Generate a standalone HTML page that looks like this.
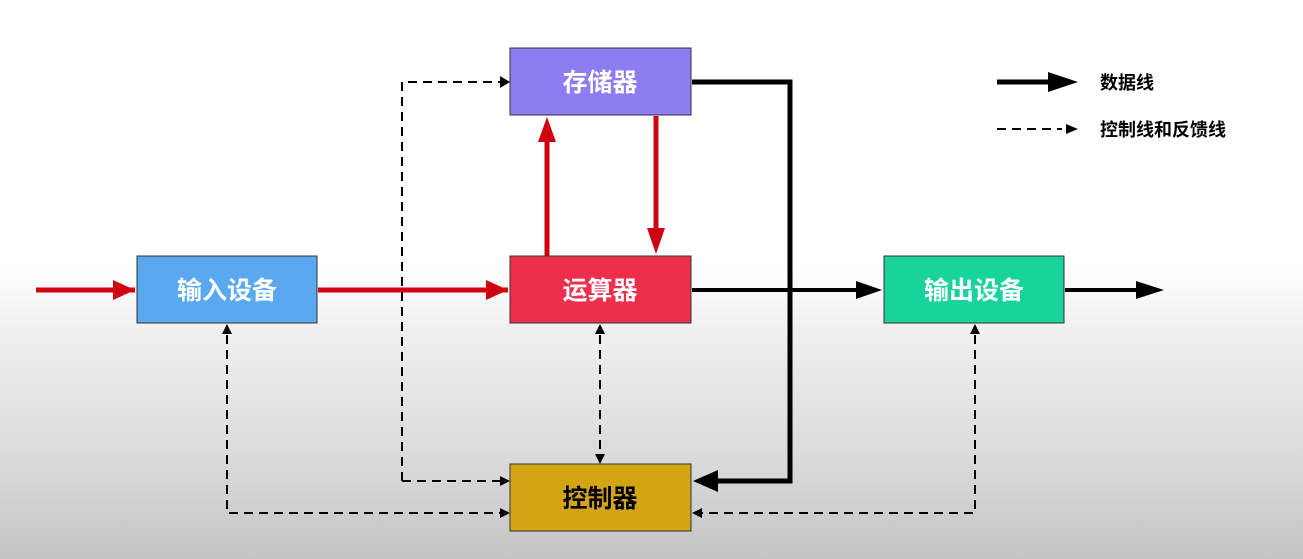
<!DOCTYPE html>
<html><head><meta charset="utf-8"><style>
html,body{margin:0;padding:0;}
body{width:1303px;height:559px;overflow:hidden;background:linear-gradient(#fff 0px,#fff 265px,#f0f0f0 330px,#d8d8d8 470px,#c4c4c4 559px);}
svg{display:block}
text{font-family:"Liberation Sans","Noto Sans CJK SC",sans-serif;font-weight:bold;}
</style></head><body>
<svg width="1303" height="559" viewBox="0 0 1303 559">
<defs>
<marker id="red" markerWidth="10" markerHeight="10" refX="9" refY="5" orient="auto" markerUnits="userSpaceOnUse"><path d="M0,0 L10,5 L0,10 z" fill="#d10010"/></marker>
<marker id="blk" markerWidth="10" markerHeight="10" refX="9" refY="5" orient="auto" markerUnits="userSpaceOnUse"><path d="M0,0 L10,5 L0,10 z" fill="#000"/></marker>
<marker id="sm" markerWidth="10" markerHeight="8" refX="9" refY="4" orient="auto" markerUnits="userSpaceOnUse"><path d="M0,0 L10,4 L0,8 z" fill="#000"/></marker>
</defs>
<g fill="none">
<!-- red arrows -->
<path d="M36,290 H135" stroke="#d10010" stroke-width="5"/>
<path d="M113,280 L135,290 L113,300z" fill="#d10010"/>
<path d="M318,290 H508" stroke="#d10010" stroke-width="5"/>
<path d="M486,280 L508,290 L486,300z" fill="#d10010"/>
<path d="M547,256 V140" stroke="#d10010" stroke-width="5"/>
<path d="M538,142 L547,117 L556,142z" fill="#d10010"/>
<path d="M656,116 V230" stroke="#d10010" stroke-width="5"/>
<path d="M647,228 L656,254 L665,228z" fill="#d10010"/>
<!-- black data lines -->
<path d="M692,82 H790 V481 H718" stroke="#000" stroke-width="5"/>
<path d="M718,470 L693,481 L718,492z" fill="#000"/>
<path d="M692,290 H860" stroke="#000" stroke-width="4"/>
<path d="M856,281 L882,290 L856,299z" fill="#000"/>
<path d="M1065,290 H1140" stroke="#000" stroke-width="4"/>
<path d="M1136,281 L1164,290 L1136,299z" fill="#000"/>
<!-- dashed -->
<g stroke="#000" stroke-width="2" stroke-dasharray="9,6">
<path d="M402,481 V82 H500"/>
<path d="M402,481 H500"/>
<path d="M227,335 V513 H500"/>
<path d="M600,335 V455"/>
<path d="M975,335 V513 H702"/>
<path d="M997,129 H1062"/>
</g>
<path d="M500,76 L510,82 L500,88z" fill="#000"/>
<path d="M500,476 L510,481 L500,486z" fill="#000"/>
<path d="M500,508 L510,513 L500,518z" fill="#000"/>
<path d="M702,508 L692,513 L702,518z" fill="#000"/>
<path d="M222,334 L227,324 L232,334z" fill="#000"/>
<path d="M595,334 L600,324 L605,334z" fill="#000"/>
<path d="M595,454 L600,464 L605,454z" fill="#000"/>
<path d="M970,334 L975,324 L980,334z" fill="#000"/>
<path d="M1066,124 L1078,129 L1066,134z" fill="#000"/>
<!-- legend thick -->
<path d="M997,82 H1052" stroke="#000" stroke-width="5"/>
<path d="M1048,72 L1078,82 L1048,92z" fill="#000"/>
</g>
<!-- boxes -->
<g stroke="#333" stroke-width="1">
<rect x="510" y="48" width="181" height="67" fill="#8e7cf2"/>
<rect x="510" y="256" width="181" height="67" fill="#ee2f4b"/>
<rect x="137" y="256" width="180" height="67" fill="#5aa9ef"/>
<rect x="884" y="256" width="180" height="67" fill="#19d39c"/>
<rect x="510" y="464" width="181" height="67" fill="#d3a515"/>
</g>
<g font-size="25" text-anchor="middle" fill="#fff">
<text x="600" y="91">存储器</text>
<text x="600" y="299">运算器</text>
<text x="227" y="299">输入设备</text>
<text x="974" y="299">输出设备</text>
<text x="600" y="507" fill="#000">控制器</text>
</g>
<g font-size="18" fill="#000">
<text x="1100" y="89">数据线</text>
<text x="1100" y="136">控制线和反馈线</text>
</g>
</svg>
</body></html>
